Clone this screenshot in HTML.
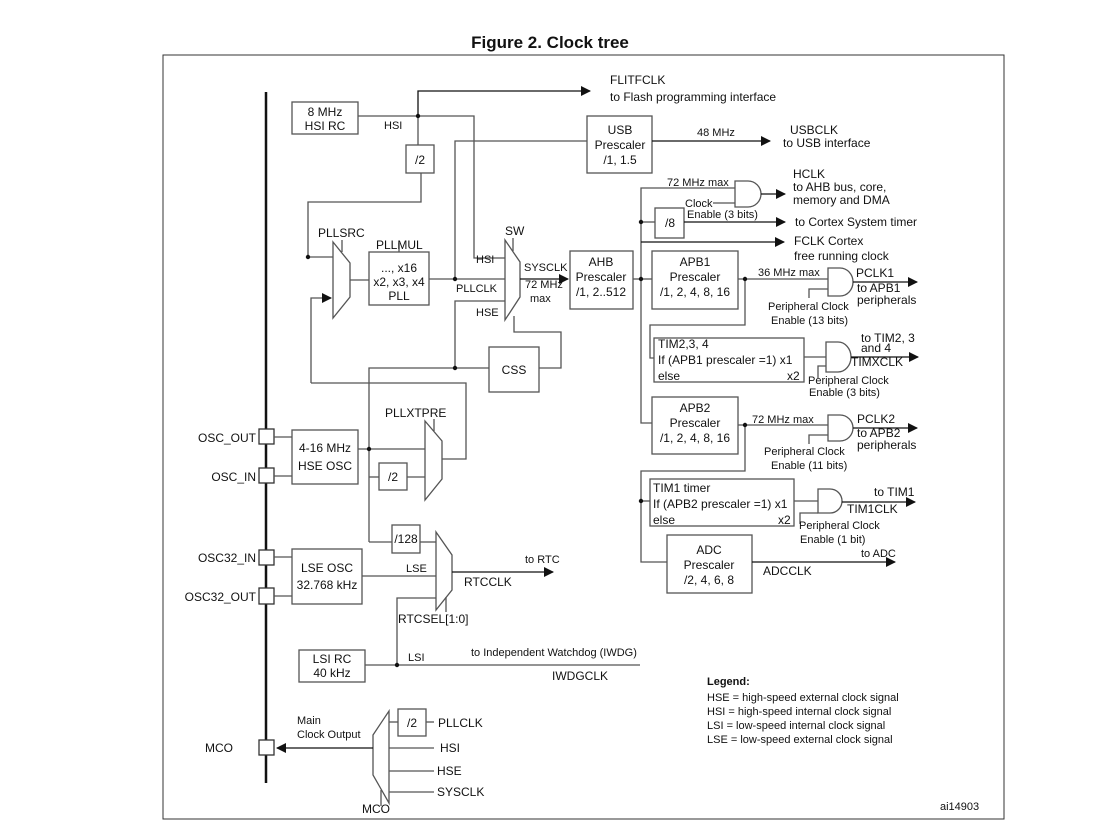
<!DOCTYPE html>
<html><head><meta charset="utf-8"><style>
html,body{margin:0;padding:0;background:#fff}
svg{display:block}
text{font-family:"Liberation Sans",Arial,sans-serif;font-size:12px;fill:#111}
.s{font-size:11px}
</style></head><body>
<svg width="1101" height="837" viewBox="0 0 1101 837" xmlns="http://www.w3.org/2000/svg">
<defs><marker id="a" markerWidth="10" markerHeight="10" refX="9" refY="5" orient="auto" markerUnits="userSpaceOnUse"><path d="M0,0 L10,5 L0,10 z" fill="#111"/></marker></defs>
<text x="550" y="48" text-anchor="middle" style="font-size:17px;font-weight:bold">Figure 2. Clock tree</text>
<rect x="163" y="55" width="841" height="764" fill="none" stroke="#333" stroke-width="1"/>
<line x1="266" y1="92" x2="266" y2="783" stroke="#111" stroke-width="2.5"/>
<g fill="none" stroke="#555" stroke-width="1.3">
<rect x="292" y="102" width="66" height="32" fill="#fff"/>
<polyline points="358,116 474,116 474,258 505,258"/>
<polyline points="418,116 418,91 590,91" marker-end="url(#a)" stroke="#111"/>
<line x1="418" y1="116" x2="418" y2="145"/>
<rect x="406" y="145" width="28" height="28"/>
<polyline points="421,173 421,202 308,202 308,257 333,257"/>
<polyline points="311,383 311,298 331,298" marker-end="url(#a)"/>
<polygon points="333,242 350,263 350,297 333,318" fill="#fff"/>
<line x1="342" y1="240" x2="342" y2="252"/>
<line x1="350" y1="280" x2="369" y2="280"/>
<rect x="369" y="252" width="60" height="53" fill="#fff"/>
<line x1="399" y1="243" x2="399" y2="252"/>
<line x1="429" y1="279" x2="505" y2="279"/>
<polyline points="455,279 455,141 587,141"/>
<rect x="587" y="116" width="65" height="57" fill="#fff"/>
<line x1="652" y1="141" x2="770" y2="141" marker-end="url(#a)" stroke="#111"/>
<polyline points="455,368 455,301 505,301"/>
<polyline points="369,542 369,368 489,368"/>
<rect x="489" y="347" width="50" height="45" fill="#fff"/>
<polyline points="539,368 561,368 561,332 514,332 514,316"/>
<polygon points="505,240 520,262 520,297 505,320" fill="#fff"/>
<line x1="513" y1="238" x2="513" y2="251"/>
<line x1="520" y1="279" x2="568" y2="279" marker-end="url(#a)" stroke="#111"/>
<rect x="570" y="251" width="63" height="58" fill="#fff"/>
<line x1="633" y1="279" x2="641" y2="279"/>
<polyline points="311,383 466,383 466,459 442,459"/>
<polyline points="735,188 641,188 641,423 652,423"/>
<line x1="641" y1="222" x2="655" y2="222"/>
<rect x="655" y="208" width="29" height="30" fill="#fff"/>
<line x1="684" y1="222" x2="785" y2="222" marker-end="url(#a)" stroke="#111"/>
<line x1="641" y1="242" x2="784" y2="242" marker-end="url(#a)" stroke="#111"/>
<line x1="641" y1="279" x2="652" y2="279"/>
<path d="M735,181 H748 A13,13 0 0 1 748,207 H735 Z" fill="#fff"/>
<line x1="761" y1="194" x2="785" y2="194" marker-end="url(#a)" stroke="#111"/>
<line x1="713" y1="203" x2="735" y2="203"/>
<rect x="652" y="251" width="86" height="58" fill="#fff"/>
<line x1="738" y1="279" x2="828" y2="279"/>
<path d="M828,268 H840 A13,14 0 0 1 840,296 H828 Z" fill="#fff"/>
<line x1="853" y1="282" x2="917" y2="282" marker-end="url(#a)" stroke="#111"/>
<polyline points="809,298 809,289 828,289"/>
<polyline points="745,279 745,325 650,325 650,358 654,358"/>
<rect x="654" y="338" width="150" height="44" fill="#fff"/>
<line x1="804" y1="357" x2="826" y2="357"/>
<path d="M826,342 H838 A13,15 0 0 1 838,372 H826 Z" fill="#fff"/>
<line x1="851" y1="357" x2="918" y2="357" marker-end="url(#a)" stroke="#111"/>
<polyline points="818,378 818,366 826,366"/>
<rect x="652" y="397" width="86" height="57" fill="#fff"/>
<line x1="738" y1="425" x2="828" y2="425"/>
<path d="M828,415 H840 A13,13 0 0 1 840,441 H828 Z" fill="#fff"/>
<line x1="853" y1="428" x2="917" y2="428" marker-end="url(#a)" stroke="#111"/>
<polyline points="809,444 809,435 828,435"/>
<polyline points="745,425 745,471 641,471 641,562 667,562"/>
<line x1="641" y1="501" x2="650" y2="501"/>
<rect x="650" y="479" width="144" height="47" fill="#fff"/>
<line x1="794" y1="501" x2="818" y2="501"/>
<path d="M818,489 H830 A12,12 0 0 1 830,513 H818 Z" fill="#fff"/>
<line x1="842" y1="502" x2="915" y2="502" marker-end="url(#a)" stroke="#111"/>
<polyline points="800,524 800,513 818,513"/>
<rect x="667" y="535" width="85" height="58" fill="#fff"/>
<line x1="752" y1="562" x2="895" y2="562" marker-end="url(#a)" stroke="#111"/>
<rect x="259" y="429" width="15" height="15" fill="#fff" stroke="#333"/>
<rect x="259" y="468" width="15" height="15" fill="#fff" stroke="#333"/>
<line x1="274" y1="437" x2="292" y2="437"/>
<line x1="274" y1="476" x2="292" y2="476"/>
<rect x="292" y="430" width="66" height="54" fill="#fff"/>
<line x1="358" y1="449" x2="425" y2="449"/>
<line x1="369" y1="477" x2="379" y2="477"/>
<rect x="379" y="463" width="28" height="27" fill="#fff"/>
<line x1="407" y1="477" x2="425" y2="477"/>
<polygon points="425,421 442,441 442,479 425,500" fill="#fff"/>
<line x1="434" y1="419" x2="434" y2="431"/>
<line x1="369" y1="542" x2="392" y2="542"/>
<rect x="392" y="525" width="28" height="28" fill="#fff"/>
<line x1="420" y1="542" x2="436" y2="542"/>
<rect x="259" y="550" width="15" height="15" fill="#fff" stroke="#333"/>
<rect x="259" y="588" width="15" height="16" fill="#fff" stroke="#333"/>
<line x1="274" y1="557" x2="292" y2="557"/>
<line x1="274" y1="596" x2="292" y2="596"/>
<rect x="292" y="549" width="70" height="55" fill="#fff"/>
<line x1="362" y1="576" x2="436" y2="576"/>
<polygon points="436,532 452,555 452,590 436,610" fill="#fff"/>
<line x1="452" y1="572" x2="553" y2="572" marker-end="url(#a)" stroke="#111"/>
<line x1="446" y1="597" x2="446" y2="612"/>
<polyline points="397,665 397,598 436,598"/>
<rect x="299" y="650" width="66" height="32" fill="#fff"/>
<line x1="365" y1="665" x2="640" y2="665"/>
<rect x="259" y="740" width="15" height="15" fill="#fff" stroke="#333"/>
<polygon points="373,735 389,711 389,803 373,775" fill="#fff"/>
<line x1="373" y1="748" x2="277" y2="748" marker-end="url(#a)" stroke="#111"/>
<line x1="389" y1="722" x2="398" y2="722"/>
<rect x="398" y="709" width="28" height="27" fill="#fff"/>
<line x1="426" y1="722" x2="434" y2="722"/>
<line x1="389" y1="748" x2="434" y2="748"/>
<line x1="389" y1="771" x2="434" y2="771"/>
<line x1="389" y1="792" x2="434" y2="792"/>
<line x1="381" y1="790" x2="381" y2="806"/>
</g>
<g fill="#111">
<circle cx="418" cy="116" r="2.2"/><circle cx="308" cy="257" r="2.2"/><circle cx="455" cy="279" r="2.2"/>
<circle cx="455" cy="368" r="2.2"/><circle cx="641" cy="279" r="2.2"/><circle cx="641" cy="222" r="2.2"/>
<circle cx="745" cy="279" r="2.2"/><circle cx="745" cy="425" r="2.2"/><circle cx="641" cy="501" r="2.2"/>
<circle cx="369" cy="449" r="2.2"/><circle cx="397" cy="665" r="2.2"/>
</g>
<text x="610" y="84">FLITFCLK</text><text x="610" y="101">to Flash programming interface</text>
<text x="325" y="116" text-anchor="middle">8 MHz</text><text x="325" y="130" text-anchor="middle">HSI RC</text>
<text x="384" y="129" class="s">HSI</text>
<text x="420" y="164" text-anchor="middle">/2</text>
<text x="620" y="134" text-anchor="middle">USB</text><text x="620" y="149" text-anchor="middle">Prescaler</text><text x="620" y="164" text-anchor="middle">/1, 1.5</text>
<text x="697" y="136" class="s">48 MHz</text>
<text x="790" y="134">USBCLK</text><text x="783" y="147">to USB interface</text>
<text x="318" y="237">PLLSRC</text><text x="376" y="249">PLLMUL</text>
<text x="399" y="272" text-anchor="middle">..., x16</text><text x="399" y="286" text-anchor="middle">x2, x3, x4</text><text x="399" y="300" text-anchor="middle">PLL</text>
<text x="505" y="235">SW</text>
<text x="476" y="263" class="s">HSI</text><text x="456" y="292" class="s">PLLCLK</text><text x="476" y="316" class="s">HSE</text>
<text x="524" y="271" class="s">SYSCLK</text><text x="525" y="288" class="s">72 MHz</text><text x="530" y="302" class="s">max</text>
<text x="601" y="266" text-anchor="middle">AHB</text><text x="601" y="281" text-anchor="middle">Prescaler</text><text x="601" y="296" text-anchor="middle">/1, 2..512</text>
<text x="514" y="374" text-anchor="middle">CSS</text>
<text x="667" y="186" class="s">72 MHz max</text>
<text x="685" y="207" class="s">Clock</text><text x="687" y="218" class="s">Enable (3 bits)</text>
<text x="793" y="178">HCLK</text><text x="793" y="191">to AHB bus, core,</text><text x="793" y="204">memory and DMA</text>
<text x="670" y="227" text-anchor="middle">/8</text>
<text x="795" y="226">to Cortex System timer</text>
<text x="794" y="245">FCLK Cortex</text><text x="794" y="260">free running clock</text>
<text x="695" y="266" text-anchor="middle">APB1</text><text x="695" y="281" text-anchor="middle">Prescaler</text><text x="695" y="296" text-anchor="middle">/1, 2, 4, 8, 16</text>
<text x="758" y="276" class="s">36 MHz max</text>
<text x="856" y="277">PCLK1</text><text x="857" y="292">to APB1</text><text x="857" y="304">peripherals</text>
<text x="768" y="310" class="s">Peripheral Clock</text><text x="771" y="324" class="s">Enable (13 bits)</text>
<text x="658" y="348">TIM2,3, 4</text><text x="658" y="364">If (APB1 prescaler =1) x1</text><text x="658" y="380">else</text><text x="787" y="380">x2</text>
<text x="861" y="342">to TIM2, 3</text><text x="861" y="352">and 4</text><text x="851" y="366">TIMXCLK</text>
<text x="808" y="384" class="s">Peripheral Clock</text><text x="809" y="396" class="s">Enable (3 bits)</text>
<text x="695" y="412" text-anchor="middle">APB2</text><text x="695" y="427" text-anchor="middle">Prescaler</text><text x="695" y="442" text-anchor="middle">/1, 2, 4, 8, 16</text>
<text x="752" y="423" class="s">72 MHz max</text>
<text x="857" y="423">PCLK2</text><text x="857" y="437">to APB2</text><text x="857" y="449">peripherals</text>
<text x="764" y="455" class="s">Peripheral Clock</text><text x="771" y="469" class="s">Enable (11 bits)</text>
<text x="653" y="492">TIM1 timer</text><text x="653" y="508">If (APB2 prescaler =1) x1</text><text x="653" y="524">else</text><text x="778" y="524">x2</text>
<text x="874" y="496">to TIM1</text><text x="847" y="513">TIM1CLK</text>
<text x="799" y="529" class="s">Peripheral Clock</text><text x="800" y="543" class="s">Enable (1 bit)</text>
<text x="709" y="554" text-anchor="middle">ADC</text><text x="709" y="569" text-anchor="middle">Prescaler</text><text x="709" y="584" text-anchor="middle">/2, 4, 6, 8</text>
<text x="861" y="557" class="s">to ADC</text><text x="763" y="575">ADCCLK</text>
<text x="256" y="442" text-anchor="end">OSC_OUT</text><text x="256" y="481" text-anchor="end">OSC_IN</text>
<text x="256" y="562" text-anchor="end">OSC32_IN</text><text x="256" y="601" text-anchor="end">OSC32_OUT</text>
<text x="233" y="752" text-anchor="end">MCO</text>
<text x="325" y="452" text-anchor="middle">4-16 MHz</text><text x="325" y="470" text-anchor="middle">HSE OSC</text>
<text x="393" y="481" text-anchor="middle">/2</text>
<text x="385" y="417">PLLXTPRE</text>
<text x="406" y="543" text-anchor="middle">/128</text>
<text x="327" y="572" text-anchor="middle">LSE OSC</text><text x="327" y="589" text-anchor="middle">32.768 kHz</text>
<text x="406" y="572" class="s">LSE</text>
<text x="525" y="563" class="s">to RTC</text><text x="464" y="586">RTCCLK</text>
<text x="398" y="623">RTCSEL[1:0]</text>
<text x="332" y="663" text-anchor="middle">LSI RC</text><text x="332" y="677" text-anchor="middle">40 kHz</text>
<text x="408" y="661" class="s">LSI</text>
<text x="471" y="656" class="s">to Independent Watchdog (IWDG)</text>
<text x="552" y="680">IWDGCLK</text>
<text x="297" y="724" class="s">Main</text><text x="297" y="738" class="s">Clock Output</text>
<text x="412" y="727" text-anchor="middle">/2</text>
<text x="438" y="727">PLLCLK</text><text x="440" y="752">HSI</text><text x="437" y="775">HSE</text><text x="437" y="796">SYSCLK</text>
<text x="362" y="813">MCO</text>
<text x="707" y="685" class="s" style="font-weight:bold">Legend:</text>
<text x="707" y="701" class="s">HSE = high-speed external clock signal</text>
<text x="707" y="715" class="s">HSI = high-speed internal clock signal</text>
<text x="707" y="729" class="s">LSI = low-speed internal clock signal</text>
<text x="707" y="743" class="s">LSE = low-speed external clock signal</text>
<text x="940" y="810" class="s">ai14903</text>
</svg>
</body></html>
